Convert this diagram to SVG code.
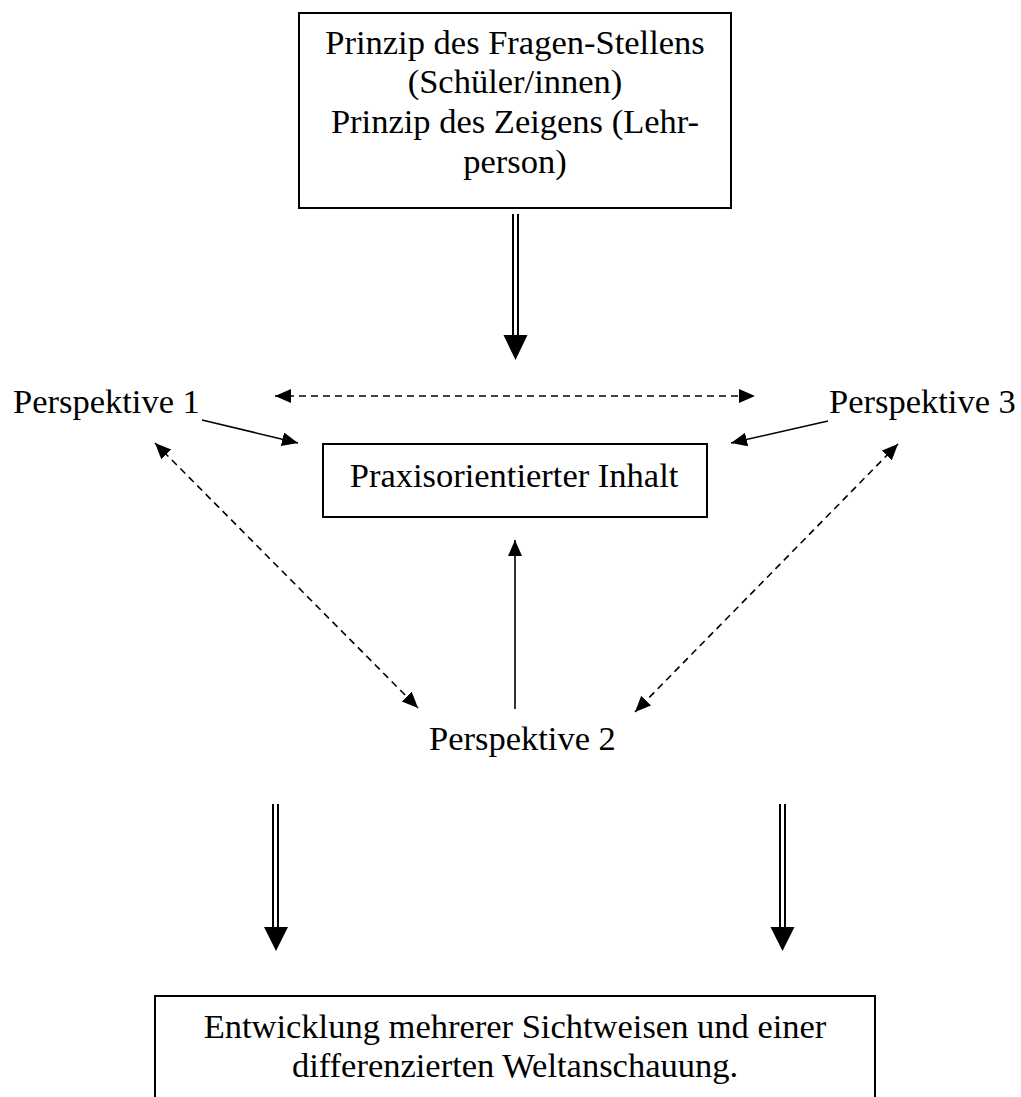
<svg xmlns="http://www.w3.org/2000/svg" width="1021" height="1097" viewBox="0 0 1021 1097">
<style>
text{font-family:"Liberation Serif","Times New Roman",serif;font-size:34.5px;fill:#000}
.box{fill:#fff;stroke:#000;stroke-width:2}
.ln{stroke:#000;stroke-width:1.6;fill:none}
.dash{stroke:#000;stroke-width:1.6;fill:none;stroke-dasharray:7 5}
.dbl{stroke:#000;stroke-width:2;fill:none}
.head{fill:#000}
</style>
<defs>
<marker id="ah" markerUnits="userSpaceOnUse" markerWidth="17" markerHeight="15" refX="16" refY="7" orient="auto-start-reverse" viewBox="0 0 17 15">
<path d="M0,0 L16,7 L0,14 z" fill="#000"/>
</marker>
</defs>
<rect width="1021" height="1097" fill="#fff"/>
<g id="connectors">
<g id="c-top">
<line class="dbl" x1="513" y1="214" x2="513" y2="337"/>
<line class="dbl" x1="518" y1="214" x2="518" y2="337"/>
<polygon class="head" points="503.5,335 527.5,335 515.5,360"/>
</g>
<line class="dash" x1="275" y1="396" x2="755" y2="396" marker-start="url(#ah)" marker-end="url(#ah)"/>
<line class="ln" x1="202" y1="420" x2="298" y2="443" marker-end="url(#ah)"/>
<line class="ln" x1="828" y1="421" x2="731" y2="443" marker-end="url(#ah)"/>
<line class="dash" x1="155" y1="443" x2="418" y2="708" marker-start="url(#ah)" marker-end="url(#ah)"/>
<line class="dash" x1="898" y1="444" x2="635" y2="712" marker-start="url(#ah)" marker-end="url(#ah)"/>
<line class="ln" x1="515" y1="709" x2="515" y2="540" marker-end="url(#ah)"/>
<g id="c-left">
<line class="dbl" x1="273" y1="804" x2="273" y2="929"/>
<line class="dbl" x1="278" y1="804" x2="278" y2="929"/>
<polygon class="head" points="264,927 288,927 276,951"/>
</g>
<g id="c-right">
<line class="dbl" x1="780" y1="804" x2="780" y2="929"/>
<line class="dbl" x1="785" y1="804" x2="785" y2="929"/>
<polygon class="head" points="770.5,927 794.5,927 782.5,951"/>
</g>
</g>
<g id="n-prinzip">
<rect class="box" x="299" y="13" width="432" height="195"/>
<text x="515" y="54" text-anchor="middle">Prinzip des Fragen-Stellens</text>
<text x="515" y="93" text-anchor="middle">(Schüler/innen)</text>
<text x="515" y="133" text-anchor="middle">Prinzip des Zeigens (Lehr-</text>
<text x="515" y="173" text-anchor="middle">person)</text>
</g>
<g id="n-p1"><text x="13" y="413">Perspektive 1</text></g>
<g id="n-p3"><text x="829" y="413">Perspektive 3</text></g>
<g id="n-inhalt">
<rect class="box" x="323" y="444" width="384" height="73"/>
<text x="514" y="487" text-anchor="middle">Praxisorientierter Inhalt</text>
</g>
<g id="n-p2"><text x="429" y="750">Perspektive 2</text></g>
<g id="n-entwicklung">
<rect class="box" x="155" y="996" width="720" height="110"/>
<text x="515" y="1038" text-anchor="middle">Entwicklung mehrerer Sichtweisen und einer</text>
<text x="515" y="1077" text-anchor="middle">differenzierten Weltanschauung.</text>
</g>
</svg>
